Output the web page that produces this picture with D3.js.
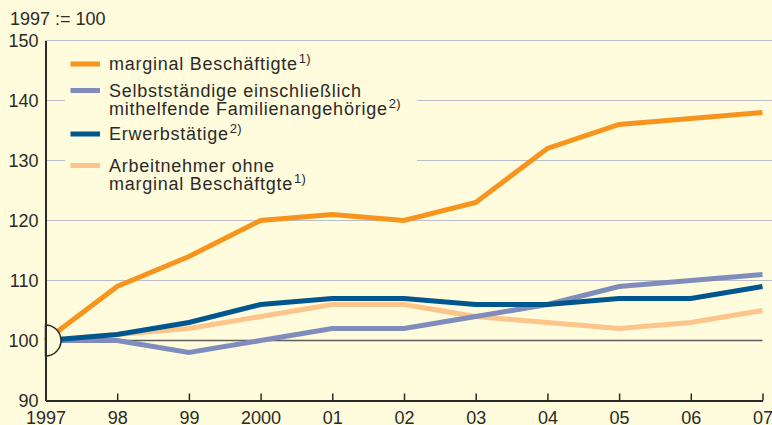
<!DOCTYPE html>
<html>
<head>
<meta charset="utf-8">
<script src="https://cdn.jsdelivr.net/npm/d3@7"></script>
<style>
  body { margin: 0; background: #fefcdc; }
  svg { display: block; font-family: "Liberation Sans", Arial, sans-serif; }
</style>
</head>
<body>
<svg id="chart" width="772" height="425"></svg>
<script>
// data (index, 1997 = 100)
const years = [1997, 1998, 1999, 2000, 2001, 2002, 2003, 2004, 2005, 2006, 2007];
const yearLabels = ['1997', '98', '99', '2000', '01', '02', '03', '04', '05', '06', '07'];
const marginal = [100, 109, 114, 120, 121, 120, 123, 132, 136, 137, 138];
const selbststaendige = [100, 100, 98, 100, 102, 102, 104, 106, 109, 110, 111];
const erwerbstaetige = [100, 101, 103, 106, 107, 107, 106, 106, 107, 107, 109];
const arbeitnehmer = [100, 101, 102, 104, 106, 106, 104, 103, 102, 103, 105];
const yTicks = [90, 100, 110, 120, 130, 140, 150];

// drawing order: light orange at the back, orange on top
const series = [
  { values: arbeitnehmer, color: '#fdc48c' },
  { values: selbststaendige, color: '#7f8cbc' },
  { values: erwerbstaetige, color: '#00578f' },
  { values: marginal, color: '#f7941d' }
];

const legendItems = [
  { lines: ['marginal Beschäftigte'], note: '1)', color: '#f7941d' },
  { lines: ['Selbstständige einschließlich', 'mithelfende Familienangehörige'], note: '2)', color: '#7f8cbc' },
  { lines: ['Erwerbstätige'], note: '2)', color: '#00578f' },
  { lines: ['Arbeitnehmer ohne', 'marginal Beschäftgte'], note: '1)', color: '#fdc48c' }
];

const bg = '#fefcdc';
const ink = '#2b2a29';
const svg = d3.select('#chart');

const x = d3.scaleLinear().domain([1997, 2007]).range([45.5, 762.5]);
const y = d3.scaleLinear().domain([90, 150]).range([400.5, 40.5]);

svg.append('rect').attr('width', 772).attr('height', 425).attr('fill', bg);

// title
svg.append('text')
  .attr('x', 10).attr('y', 25)
  .attr('font-size', 18).attr('fill', ink)
  .text('1997 := 100');

// grid lines
svg.append('g')
  .selectAll('line')
  .data(yTicks.filter(d => d > 100))
  .join('line')
  .attr('x1', x(1997)).attr('x2', 772)
  .attr('y1', d => y(d)).attr('y2', d => y(d))
  .attr('stroke', '#b9bdc9').attr('stroke-width', 1.2);

// legend background interrupts the grid
svg.append('rect')
  .attr('x', 65).attr('y', 46).attr('width', 352).attr('height', 150)
  .attr('fill', bg);

// reference line at 100
svg.append('line')
  .attr('x1', x(1997)).attr('x2', x(2007))
  .attr('y1', y(100)).attr('y2', y(100))
  .attr('stroke', '#5e5d58').attr('stroke-width', 1.5);

// series
const line = d3.line()
  .x((d, i) => x(years[i]))
  .y(d => y(d));

svg.append('g')
  .selectAll('path')
  .data(series)
  .join('path')
  .attr('d', d => line(d.values))
  .attr('fill', 'none')
  .attr('stroke', d => d.color)
  .attr('stroke-width', 5)
  .attr('stroke-linejoin', 'miter');

// half circle marking the base year
const r = 15.5;
svg.append('path')
  .attr('d', d3.arc()({ innerRadius: 0, outerRadius: r, startAngle: 0, endAngle: Math.PI }))
  .attr('transform', `translate(${x(1997)},${y(100)})`)
  .attr('fill', bg)
  .attr('stroke', ink).attr('stroke-width', 1.5);

// axes
const xAxis = d3.axisBottom(x)
  .tickValues(years)
  .tickFormat((d, i) => yearLabels[i])
  .tickSizeInner(-7)
  .tickSizeOuter(0)
  .tickPadding(11);

const gx = svg.append('g')
  .attr('transform', `translate(0,${y(90)})`)
  .call(xAxis);
gx.select('.domain').attr('stroke', ink).attr('stroke-width', 2);
gx.selectAll('.tick line').attr('stroke', ink).attr('stroke-width', 1.5);
gx.selectAll('.tick text')
  .attr('font-size', 18).attr('fill', ink)
  .attr('font-family', '"Liberation Sans", Arial, sans-serif');

const yAxis = d3.axisLeft(y)
  .tickValues(yTicks)
  .tickSize(0)
  .tickPadding(7);

const gy = svg.append('g')
  .attr('transform', `translate(${x(1997)},0)`)
  .call(yAxis);
gy.select('.domain').attr('stroke', ink).attr('stroke-width', 2);
gy.selectAll('.tick text')
  .attr('font-size', 18).attr('fill', ink)
  .attr('dy', '0.36em')
  .attr('font-family', '"Liberation Sans", Arial, sans-serif');

// legend
const rowBaselines = [70, 96.5, 140, 171.5];
const lineGap = 18.5;
const legend = svg.append('g');

legendItems.forEach((item, k) => {
  const base = rowBaselines[k];
  legend.append('line')
    .attr('x1', 70.5).attr('x2', 100)
    .attr('y1', base - 6).attr('y2', base - 6)
    .attr('stroke', item.color).attr('stroke-width', 5);

  item.lines.forEach((txt, j) => {
    const t = legend.append('text')
      .attr('x', 109).attr('y', base + j * lineGap)
      .attr('font-size', 18).attr('fill', ink)
      .attr('letter-spacing', 0.75);
    t.append('tspan').text(txt);
    if (j === item.lines.length - 1) {
      t.append('tspan')
        .attr('font-size', 13).attr('dy', -7).attr('dx', 1)
        .attr('letter-spacing', 0.3)
        .text(item.note);
    }
  });
});
</script>
</body>
</html>
